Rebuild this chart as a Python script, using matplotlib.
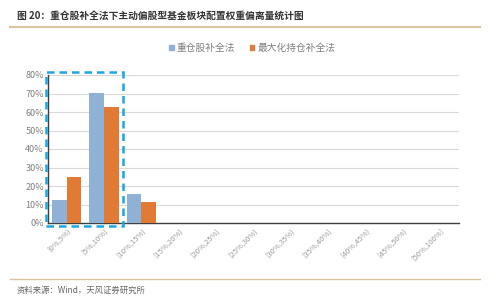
import matplotlib
matplotlib.use("Agg")
import matplotlib.pyplot as plt
from matplotlib.patches import Rectangle
from matplotlib.lines import Line2D
import numpy as np

plt.rcParams['font.family'] = ['Noto Sans CJK SC', 'DejaVu Sans']

categories = ["[0%,5%)", "[5%,10%)", "[10%,15%)", "[15%,20%)", "[20%,25%)", "[25%,30%)",
              "[30%,35%)", "[35%,40%)", "[40%,45%)", "[45%,50%)", "[50%,100%]"]
series_names = ["重仓股补全法", "最大化持仓补全法"]
heavy_values = [12.5, 70.5, 15.7, 0, 0, 0, 0, 0, 0, 0, 0]
maxhold_values = [25.0, 62.5, 11.2, 0, 0, 0, 0, 0, 0, 0, 0]
yticks = [0, 10, 20, 30, 40, 50, 60, 70, 80]
title = "图 20：重仓股补全法下主动偏股型基金板块配置权重偏离量统计图"
source = "资料来源：Wind，天风证券研究所"

c_blue = "#8FB1D6"
c_orange = "#E07A35"
gray = "#7F7F7F"

fig = plt.figure(figsize=(4.99, 3.03), dpi=100)
ax = fig.add_axes([48/499, 1-223/303, (459-48)/499, (223-75)/303])

x = np.arange(len(categories))
w = 0.39
ax.bar(x - w/2, heavy_values, w, color=c_blue, zorder=3)
ax.bar(x + w/2, maxhold_values, w, color=c_orange, zorder=3)

ax.set_xlim(-0.5, len(categories) - 0.5)
ax.set_ylim(0, 80)
ax.set_yticks(yticks)
ax.set_yticklabels([f"{v}%" for v in yticks], fontsize=6.5, color=gray)
ax.set_xticks(x)
ax.set_xticklabels(categories, rotation=45, ha='right', rotation_mode='anchor',
                   fontsize=5.5, color="#9A9A9A")
ax.tick_params(axis='both', length=0, pad=3)
ax.grid(axis='y', color="#D9D9D9", linewidth=0.8, zorder=0)
for s in ['top', 'right']:
    ax.spines[s].set_visible(False)
ax.spines['left'].set_color("#404040")
ax.spines['bottom'].set_color("#404040")
ax.spines['left'].set_linewidth(1.0)
ax.spines['bottom'].set_linewidth(1.0)

rect = Rectangle((-0.55, -1.7), 2.05, 83.4, fill=False, edgecolor="#1AA7E1",
                 linestyle=(0, (3, 2)), linewidth=1.8, clip_on=False, zorder=5)
ax.add_patch(rect)

handles = [Rectangle((0, 0), 1, 1, color=c_blue), Rectangle((0, 0), 1, 1, color=c_orange)]
fig.legend(handles, series_names, loc='center left', bbox_to_anchor=(160/499, 1-48/303),
           ncol=2, frameon=False, fontsize=7, labelcolor=gray, handlelength=0.5,
           handleheight=0.5, handletextpad=0.3, columnspacing=1.5)

fig.text(17/499, 1-16/303, title, fontsize=7, fontweight='bold', color="#333333",
         va='center', ha='left')
fig.add_artist(Line2D([10/499, 480/499], [1-27/303, 1-27/303], color="#D8C59E", linewidth=1.5))
fig.add_artist(Line2D([10/499, 480/499], [1-279/303, 1-279/303], color="#D8C59E", linewidth=1.0))
fig.text(17/499, 1-290/303, source, fontsize=6, color="#666666", va='center', ha='left')

fig.savefig("out.png", dpi=100, facecolor='white')
